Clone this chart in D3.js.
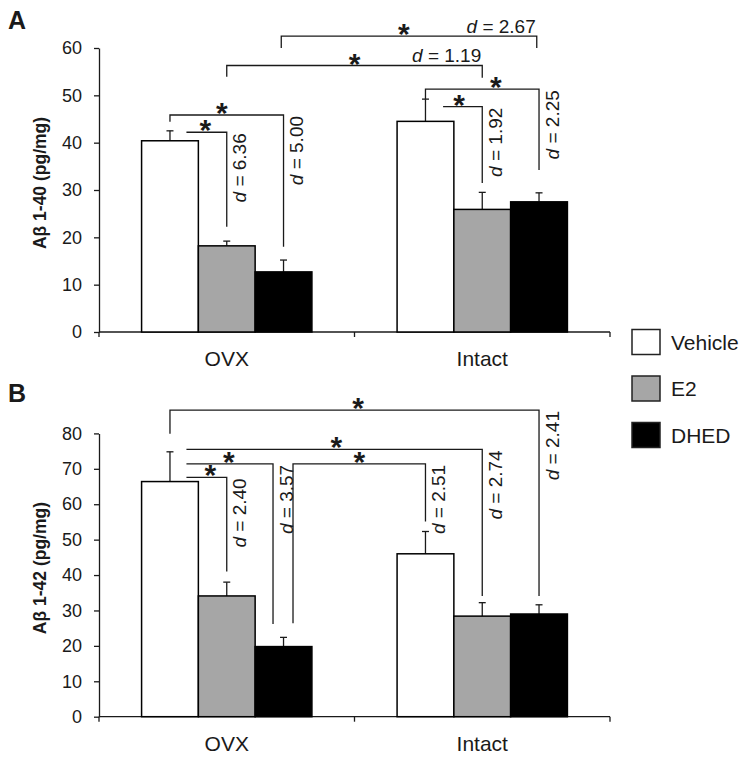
<!DOCTYPE html>
<html><head><meta charset="utf-8">
<script src="https://cdn.jsdelivr.net/npm/d3@7/dist/d3.min.js"></script>
<style>
body{margin:0;background:#fff}
svg text{font-family:"Liberation Sans",Arial,Helvetica,sans-serif;fill:#1a1a1a}
</style>
</head><body>
<svg id="chart" width="751" height="759"></svg>
<script>
// ---------- data ----------
const categories = ["OVX", "Intact"];
const seriesNames = ["Vehicle", "E2", "DHED"];
const seriesColors = ["#ffffff", "#a6a6a6", "#000000"];

const ticksA = [0, 10, 20, 30, 40, 50, 60];
const ticksB = [0, 10, 20, 30, 40, 50, 60, 70, 80];

// Panel A: Abeta 1-40 (pg/mg)
const a40Vehicle = [40.4, 44.5];
const a40E2 = [18.2, 25.9];
const a40DHED = [12.7, 27.5];
const a40VehicleSem = [2.1, 4.7];
const a40E2Sem = [1.0, 3.6];
const a40DHEDSem = [2.5, 1.9];

// Panel B: Abeta 1-42 (pg/mg)
const a42Vehicle = [66.4, 46.0];
const a42E2 = [34.1, 28.4];
const a42DHED = [19.8, 29.0];
const a42VehicleSem = [8.4, 6.3];
const a42E2Sem = [3.9, 3.8];
const a42DHEDSem = [2.6, 2.6];

// significance brackets: endpoints [category, series, offset in bar widths], level / drops in data units
const bracketsA = [
  {from: ["OVX", "DHED", -0.04], to: ["Intact", "DHED", -0.04], level: 62.5, fromDrop: 60.0, toDrop: 60.0, star: 0.48, d: "2.67", label: "top"},
  {from: ["OVX", "E2", 0], to: ["Intact", "E2", 0], level: 56.3, fromDrop: 53.9, toDrop: 53.7, star: 0.5, d: "1.19", label: "top"},
  {from: ["OVX", "Vehicle", 0], to: ["OVX", "DHED", 0], level: 45.85, fromDrop: 44.4, toDrop: 18.0, star: 0.456, d: "5.00", label: "side"},
  {from: ["OVX", "Vehicle", 0.29], to: ["OVX", "E2", 0], level: 42.2, fromDrop: null, toDrop: 22.25, star: 0.47, d: "6.36", label: "side"},
  {from: ["Intact", "Vehicle", 0], to: ["Intact", "DHED", 0], level: 51.3, fromDrop: 49.2, toDrop: 34.2, star: 0.62, d: "2.25", label: "side"},
  {from: ["Intact", "Vehicle", 0.31], to: ["Intact", "E2", 0], level: 47.6, fromDrop: null, toDrop: 31.5, star: 0.41, d: "1.92", label: "side"}
];
const bracketsB = [
  {from: ["OVX", "Vehicle", 0], to: ["Intact", "DHED", 0], level: 86.6, fromDrop: 79.9, toDrop: 34.1, star: 0.51, d: "2.41", label: "side"},
  {from: ["OVX", "Vehicle", 0.29], to: ["Intact", "E2", 0], level: 75.5, fromDrop: null, toDrop: 34.1, star: 0.507, d: "2.74", label: "side"},
  {from: ["OVX", "Vehicle", 0.29], to: ["OVX", "DHED", -0.185], level: 71.4, fromDrop: null, toDrop: 26.2, star: 0.49, d: "3.57", label: "side"},
  {from: ["OVX", "DHED", 0.167], to: ["Intact", "Vehicle", 0], level: 71.4, fromDrop: 26.4, toDrop: 55.1, star: 0.5, d: "2.51", label: "side"},
  {from: ["OVX", "Vehicle", 0.29], to: ["OVX", "E2", 0], level: 67.6, fromDrop: null, toDrop: 41.0, star: 0.59, d: "2.40", label: "side"}
];

// ---------- drawing ----------
const svg = d3.select("#chart");
const ink = "#1a1a1a";

const x0 = d3.scaleBand().domain(categories).range([99, 610]).paddingInner(1/3).paddingOuter(1/6);
const x1 = d3.scaleBand().domain(seriesNames).range([0, x0.bandwidth()]);

function drawPanel(opt) {
  const g = svg.append("g");
  const y = d3.scaleLinear().domain([0, d3.max(opt.ticks)]).range(opt.yRange);
  const valueBySeries = {Vehicle: opt.vehicle, E2: opt.e2, DHED: opt.dhed};
  const semBySeries = {Vehicle: opt.vehicleSem, E2: opt.e2Sem, DHED: opt.dhedSem};

  // panel letter
  g.append("text").attr("x", 8).attr("y", opt.letterY).attr("font-size", 25).attr("font-weight", "bold").text(opt.letter);

  // y axis
  const yAxis = g.append("g").attr("transform", `translate(${x0.range()[0]},0)`)
    .call(d3.axisLeft(y).tickValues(opt.ticks).tickSize(5).tickSizeOuter(0).tickPadding(12));
  yAxis.selectAll("text").attr("font-size", 18).style("font-family", null).attr("fill", ink);
  yAxis.selectAll("line,path").attr("stroke", ink).attr("stroke-width", 1.3);

  // y title
  const yMid = (opt.yRange[0] + opt.yRange[1]) / 2 - 7;
  g.append("text").attr("transform", `translate(46,${yMid}) rotate(-90)`)
    .attr("text-anchor", "middle").attr("font-size", 17.5).attr("font-weight", "bold").text(opt.title);

  // x axis (baseline + boundary ticks + category labels)
  const y0 = y(0);
  const xa = g.append("g").attr("transform", `translate(0,${y0})`)
    .call(d3.axisBottom(x0).tickSize(0).tickPadding(19));
  xa.select(".domain").remove();
  xa.selectAll("text").attr("font-size", 21).style("font-family", null).attr("fill", ink);
  const r0 = x0.range()[0], r1 = x0.range()[1];
  g.append("line").attr("x1", r0).attr("x2", r1).attr("y1", y0).attr("y2", y0).attr("stroke", ink).attr("stroke-width", 1.3);
  d3.range(categories.length + 1).forEach(i => {
    const bx = r0 + i * x0.step();
    g.append("line").attr("x1", bx).attr("x2", bx).attr("y1", y0).attr("y2", y0 + 5).attr("stroke", ink).attr("stroke-width", 1.3);
  });

  // bars + error bars
  const rows = [];
  categories.forEach((c, ci) => seriesNames.forEach((s, si) => rows.push({c, s, si, v: valueBySeries[s][ci], e: semBySeries[s][ci]})));
  const cx = (c, s) => x0(c) + x1(s) + x1.bandwidth() / 2;
  g.selectAll(".err").data(rows).join("g").each(function(d) {
    const sel = d3.select(this);
    const xc = cx(d.c, d.s);
    sel.append("line").attr("x1", xc).attr("x2", xc).attr("y1", y(d.v)).attr("y2", y(d.v + d.e)).attr("stroke", ink).attr("stroke-width", 1.3);
    sel.append("line").attr("x1", xc - 3.5).attr("x2", xc + 3.5).attr("y1", y(d.v + d.e)).attr("y2", y(d.v + d.e)).attr("stroke", ink).attr("stroke-width", 1.3);
  });
  g.selectAll(".bar").data(rows).join("rect")
    .attr("x", d => x0(d.c) + x1(d.s)).attr("width", x1.bandwidth())
    .attr("y", d => y(d.v)).attr("height", d => y0 - y(d.v))
    .attr("fill", d => seriesColors[d.si]).attr("stroke", "#000").attr("stroke-width", 1.5);

  // brackets
  const bw = x1.bandwidth();
  opt.brackets.forEach(b => {
    const xa_ = cx(b.from[0], b.from[1]) + b.from[2] * bw;
    const xb_ = cx(b.to[0], b.to[1]) + b.to[2] * bw;
    const yl = y(b.level);
    const pts = [];
    if (b.fromDrop !== null) pts.push([xa_, y(b.fromDrop)]);
    pts.push([xa_, yl], [xb_, yl]);
    if (b.toDrop !== null) pts.push([xb_, y(b.toDrop)]);
    g.append("path").attr("d", d3.line()(pts)).attr("fill", "none").attr("stroke", ink).attr("stroke-width", 1.3);
    // star
    g.append("text").attr("x", xa_ + b.star * (xb_ - xa_)).attr("y", yl + 8)
      .attr("text-anchor", "middle").attr("font-size", 30).attr("font-weight", "bold").text("*");
    // effect size label
    let t;
    if (b.label === "top") {
      t = g.append("text").attr("x", xb_ - 1).attr("y", yl - 3.5).attr("text-anchor", "end");
    } else {
      t = g.append("text").attr("transform", `translate(${xb_ + 19.5},${yl + 1}) rotate(-90)`).attr("text-anchor", "end");
    }
    t.attr("font-size", 19);
    t.append("tspan").attr("font-style", "italic").text("d");
    t.append("tspan").text(" = " + b.d);
  });
}

drawPanel({letter: "A", letterY: 29, ticks: ticksA, yRange: [332, 48], title: "Aβ 1-40 (pg/mg)",
  vehicle: a40Vehicle, e2: a40E2, dhed: a40DHED, vehicleSem: a40VehicleSem, e2Sem: a40E2Sem, dhedSem: a40DHEDSem, brackets: bracketsA});
drawPanel({letter: "B", letterY: 402, ticks: ticksB, yRange: [716.7, 433.4], title: "Aβ 1-42 (pg/mg)",
  vehicle: a42Vehicle, e2: a42E2, dhed: a42DHED, vehicleSem: a42VehicleSem, e2Sem: a42E2Sem, dhedSem: a42DHEDSem, brackets: bracketsB});

// legend
const lg = svg.append("g").attr("transform", "translate(632,329.5)");
seriesNames.forEach((s, i) => {
  const row = lg.append("g").attr("transform", `translate(0,${i * 46.5})`);
  row.append("rect").attr("width", 28).attr("height", 25).attr("fill", seriesColors[i]).attr("stroke", "#222").attr("stroke-width", 1.5);
  row.append("text").attr("x", 39).attr("y", 20).attr("font-size", 21).text(s);
});
</script>
</body></html>
